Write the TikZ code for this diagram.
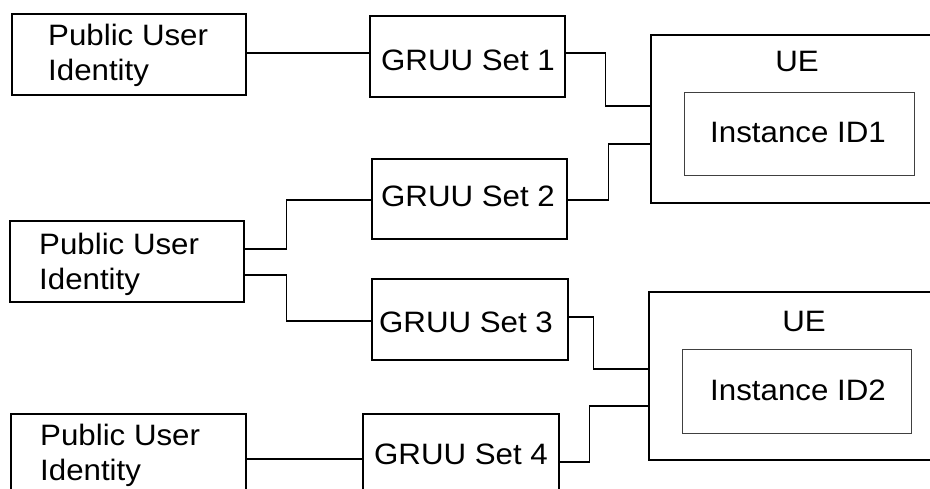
\documentclass[tikz,border=0pt]{standalone}
\usepackage{fontspec}
\setmainfont{Liberation Sans}[FakeStretch=1.06]
\usetikzlibrary{calc}
\begin{document}
\begin{tikzpicture}[x=1pt,y=-1pt,
  box/.style={draw,line width=1.6pt,anchor=north west,inner sep=0pt},
  inbox/.style={draw=black!75,line width=0.9pt,anchor=north west,inner sep=0pt},
  txt/.style={inner sep=0pt,font=\fontsize{29.5}{35}\selectfont},
  conn/.style={line width=1.6pt}]
\useasboundingbox (0,0) rectangle (930,489);
% boxes
\node[box,minimum width=234pt,minimum height=81pt] (pui1) at (11,13) {};
\node[box,minimum width=234pt,minimum height=81pt] (pui2) at (9,220) {};
\node[box,minimum width=235pt,minimum height=81pt] (pui3) at (10,413) {};
\node[box,minimum width=195pt,minimum height=81pt] (g1) at (369,15) {};
\node[box,minimum width=195pt,minimum height=80pt] (g2) at (371,158) {};
\node[box,minimum width=196pt,minimum height=81pt] (g3) at (371,278) {};
\node[box,minimum width=196pt,minimum height=81pt] (g4) at (362,413) {};
\node[box,minimum width=310pt,minimum height=168pt] (ue1) at (650,34) {};
\node[box,minimum width=310pt,minimum height=168pt] (ue2) at (648,291) {};
\node[inbox,minimum width=230pt,minimum height=83pt] (in1) at (684,92) {};
\node[inbox,minimum width=229pt,minimum height=84pt] (in2) at (682,349) {};
% texts
\node[txt,align=left,anchor=base west] (tp1) at (48,81) {Public User\\Identity};
\node[txt,align=left,anchor=base west] (tp2) at (39,290) {Public User\\Identity};
\node[txt,align=left,anchor=base west] (tp3) at (40,480) {Public User\\Identity};
\node[txt,anchor=base] (tg1) at (468,71) {GRUU Set 1};
\node[txt,anchor=base] (tg2) at (468,207) {GRUU Set 2};
\node[txt,anchor=base] (tg3) at (466,333) {GRUU Set 3};
\node[txt,anchor=base] (tg4) at (461,464) {GRUU Set 4};
\node[txt,anchor=base] (tue1) at (797,72) {UE};
\node[txt,anchor=base] (tue2) at (804,332) {UE};
\node[txt,anchor=base] (tin1) at (798,143) {Instance ID1};
\node[txt,anchor=base] (tin2) at (798,400) {Instance ID2};
% connectors
\draw[conn] ($(pui1.east)+(0,-1.5)$) coordinate (a1) -- (a1 -| g1.west);
\draw[conn] ($(g1.east)+(0,-3.5)$) -- ++(40,0) |- ($(ue1.west)+(0,-13)$);
\draw[conn] ($(g2.east)+(0,1)$) -- ++(41,0) |- ($(ue1.west)+(0,25)$);
\draw[conn] ($(pui2.east)+(0,-12.5)$) -- ++(42,0) |- ($(g2.west)+(0,1)$);
\draw[conn] ($(pui2.east)+(0,13.5)$) -- ++(42,0) |- ($(g3.west)+(0,1.5)$);
\draw[conn] ($(g3.east)+(0,-2.5)$) -- ++(25,0) |- ($(ue2.west)+(0,-7)$);
\draw[conn] ($(pui3.east)+(0,4.5)$) coordinate (a7) -- (a7 -| g4.west);
\draw[conn] ($(g4.east)+(0,7.5)$) -- ++(30,0) |- ($(ue2.west)+(0,30)$);
\end{tikzpicture}
\end{document}
